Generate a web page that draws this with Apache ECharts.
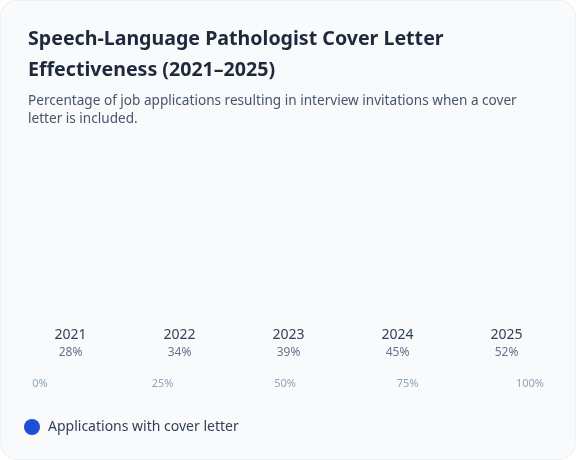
<!DOCTYPE html>
<html>
<head>
<meta charset="utf-8">
<script src="https://cdn.jsdelivr.net/npm/echarts@6/dist/echarts.min.js"></script>
<style>
  html, body { margin: 0; padding: 0; background: #ffffff; }
  #card {
    width: 576px; height: 460px; box-sizing: border-box;
    background: #f8fafc; border: 1px solid #eef1f5; border-radius: 16px;
    overflow: hidden;
  }
  #chart { width: 574px; height: 458px; }
</style>
</head>
<body>
<div id="card"><div id="chart"></div></div>
<script>
// data
var years = ['2021', '2022', '2023', '2024', '2025'];
var rates = [28, 34, 39, 45, 52];
var seriesName = 'Applications with cover letter';

var myChart = echarts.init(document.getElementById('chart'));
var font = '"Noto Sans", "Open Sans", sans-serif';

var option = {
    textStyle: { fontFamily: font },
    title: {
        text: 'Speech-Language Pathologist Cover Letter\nEffectiveness (2021–2025)',
        subtext: 'Percentage of job applications resulting in interview invitations when a cover\nletter is included.',
        left: 22,
        top: 18,
        itemGap: 6,
        textStyle: { fontFamily: font, fontSize: 19.6, fontWeight: 'bold', color: '#1e293b', lineHeight: 31 },
        subtextStyle: { fontFamily: font, fontSize: 13.6, color: '#475569', lineHeight: 18 }
    },
    legend: {
        data: [seriesName],
        left: 18,
        top: 413,
        icon: 'circle',
        itemWidth: 16,
        itemHeight: 16,
        itemGap: 8,
        textStyle: { fontFamily: font, fontSize: 14, color: '#334155', padding: [0, 0, 0, 3] }
    },
    grid: [
        { left: 15, right: 14, top: 344, height: 0 },
        { left: 39, right: 45, top: 372, height: 0 }
    ],
    xAxis: [
        {
            type: 'category',
            gridIndex: 0,
            data: years,
            position: 'top',
            axisLine: { show: false },
            axisTick: { show: false },
            axisLabel: { margin: 3, fontSize: 14, color: '#334155', fontFamily: font }
        },
        {
            type: 'value',
            gridIndex: 1,
            min: 0,
            max: 100,
            interval: 25,
            axisLine: { show: false },
            axisTick: { show: false },
            splitLine: { show: false },
            axisLabel: { margin: 5, fontSize: 11, color: '#94a3b8', formatter: '{value}%', fontFamily: font }
        }
    ],
    yAxis: [
        { type: 'value', gridIndex: 0, min: 0, max: 100, show: false },
        { type: 'value', gridIndex: 1, show: false }
    ],
    series: [{
        name: seriesName,
        type: 'bar',
        xAxisIndex: 0,
        yAxisIndex: 0,
        data: rates,
        itemStyle: { color: '#1d4ed8' },
        label: {
            show: true,
            position: 'bottom',
            distance: 2,
            formatter: '{c}%',
            fontSize: 12,
            color: '#64748b',
            fontFamily: font
        }
    }]
};
myChart.setOption(option);
</script>
</body>
</html>
